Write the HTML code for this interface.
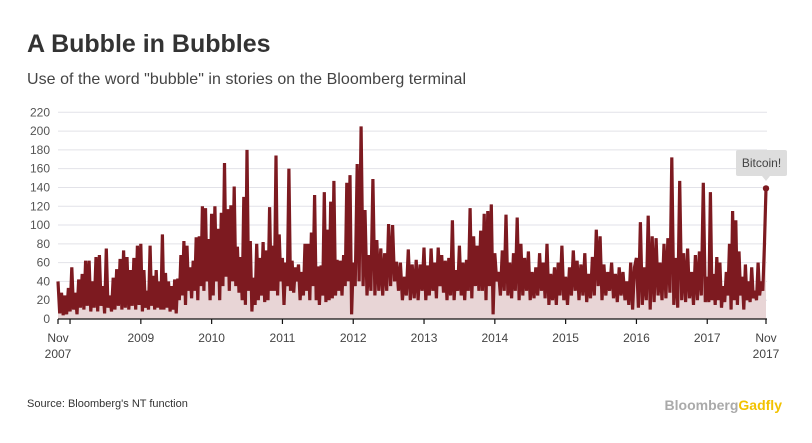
<!DOCTYPE html>
<html><head><meta charset="utf-8">
<style>
body{margin:0;background:#fff;width:812px;height:443px;overflow:hidden;font-family:"Liberation Sans",sans-serif}
svg{display:block}
</style></head>
<body>
<svg id="chart" width="812" height="443">
<text x="27" y="52" font-size="25" font-weight="bold" fill="#333">A Bubble in Bubbles</text>
<text x="27" y="84" font-size="16" fill="#444" textLength="439">Use of the word "bubble" in stories on the Bloomberg terminal</text>
<g id="grid"></g>
<g id="series"></g>
<g id="xaxis"></g>
<g>
<rect x="736" y="150" width="51" height="26" rx="2" fill="#ddd"/>
<polygon points="762,176 770,176 766,181" fill="#ddd"/>
<text x="761.5" y="167" font-size="12" fill="#444" text-anchor="middle">Bitcoin!</text>
</g>
<text x="27" y="407" font-size="11" fill="#333">Source: Bloomberg's NT function</text>
<text x="782" y="410" font-size="14" font-weight="bold" text-anchor="end"><tspan fill="#aaa">Bloomberg</tspan><tspan fill="#f2c200">Gadfly</tspan></text>
</svg>
<script>
const yTicks=[0,20,40,60,80,100,120,140,160,180,200,220];
const xTickLabels=["Nov|2007","","2009","2010","2011","2012","2013","2014","2015","2016","2017","Nov|2017"];
const xTickTimes=[2007.83,2008.0,2009,2010,2011,2012,2013,2014,2015,2016,2017,2017.83];
const segStarts=[2007.83,2009,2010,2011,2012,2013,2014,2015,2016,2017];
const segEnds=[2009,2010,2011,2012,2013,2014,2015,2016,2017,2017.83];
const s2008=[40,6,28,4,25,5,33,8,55,10,28,5,42,12,48,10,62,14,62,8,40,12,66,8,68,14,35,6,75,12,25,8,44,10,53,14,64,10,73,12,66,10,52,14,65,10,78,15];
const s2009=[80,8,52,12,30,10,78,14,46,10,52,12,40,10,90,10,49,12,40,8,35,10,42,6,43,20,68,25,83,15,78,30,55,22,62,30,87,20,88,35,120,30,118,40,85,20];
const s2010=[112,25,120,40,96,20,113,35,166,45,117,30,121,40,141,35,77,28,66,20,130,15,180,30,83,8,44,15,80,20,65,25,82,18,73,20,119,30,78,30,174,25,90,40];
const s2011=[65,15,60,35,160,30,62,28,55,40,58,20,50,25,80,30,80,20,92,35,132,20,56,15,57,25,135,18,95,20,125,22,147,25,63,30,62,25,68,35,145,40,153,5];
const s2012=[60,35,165,40,205,35,116,25,68,30,149,25,84,30,75,25,70,30,101,35,100,40,61,30,60,20,45,25,74,20,58,22,63,20,58,30];
const s2013=[76,20,57,25,75,30,60,22,76,35,68,28,62,20,65,25,105,20,52,30,78,25,60,20,63,30,118,22,88,35,78,30,94,30,112,20,115,35,122,5];
const s2014=[70,40,50,25,73,30,111,25,60,22,70,30,108,20,80,25,65,30,72,20,50,22,55,25,70,30,60,22,80,15,48,20,55,15,60,25,78,20];
const s2015=[45,15,55,25,73,30,62,20,58,25,70,18,48,22,66,25,95,35,88,20,58,25,50,30,60,22,48,18,55,25,50,20,40,15,60,10,55];
const s2016=[65,12,103,15,55,20,110,10,88,18,86,25,60,20,80,22,86,28,172,15,65,12,147,20,70,18,75,22,50,15,68,20,72,25,145,18];
const s2017=[45,18,135,20,48,15,66,20,60,12,35,18,50,25,80,10,115,20,105,15,72,25,45,10,58,20,40,18,55,22,30,20,60,25,40,30,78,139];
const segments=[s2008,s2009,s2010,s2011,s2012,s2013,s2014,s2015,s2016,s2017];

const NS="http://www.w3.org/2000/svg";
const X0=58,X1=766,T0=2007.83,T1=2017.83,Y0=319,YTOP=112.3,VMAX=220;
function xs(t){return X0+(t-T0)/(T1-T0)*(X1-X0);}
function ys(v){return Y0-v/VMAX*(Y0-YTOP);}
function mk(tag,attrs,parent){const e=document.createElementNS(NS,tag);for(const k in attrs)e.setAttribute(k,attrs[k]);parent.appendChild(e);return e;}

const grid=document.getElementById('grid');
yTicks.forEach(v=>{
  if(v>0){const l=mk('line',{x1:X0,x2:767,y1:ys(v),y2:ys(v),stroke:'#e2e2e8','stroke-width':1},grid);
  
  }
  const t=mk('text',{x:50,y:ys(v)+4,'font-size':12,fill:'#555','text-anchor':'end'},grid);
  t.textContent=v;
  
  
});

const pts=[];
segments.forEach((seg,i)=>{
  const a=segStarts[i],b=segEnds[i],n=seg.length;
  seg.forEach((v,j)=>{
    const last=(i===segments.length-1);
    const t=a+(b-a)*j/(last?(n-1):n);
    pts.push([xs(t),ys(v)]);
  });
});
const sg=document.getElementById('series');
const d=pts.map((p,i)=>(i?'L':'M')+p[0].toFixed(1)+','+p[1].toFixed(1)).join('');
const area=mk('path',{d:d+'L'+pts[pts.length-1][0].toFixed(1)+','+Y0+'L'+pts[0][0].toFixed(1)+','+Y0+'Z',fill:'#e8d5d6',stroke:'none'},sg);


const line=mk('path',{d:d,fill:'none',stroke:'#7d1a20','stroke-width':3.2,'stroke-linejoin':'miter','stroke-miterlimit':3},sg);


const lp=pts[pts.length-1];
const dot=mk('circle',{cx:lp[0],cy:lp[1],r:3.2,fill:'#7d1a20'},sg);



const xa=document.getElementById('xaxis');
const ax=mk('line',{x1:X0,x2:X1+1,y1:Y0,y2:Y0,stroke:'#111','stroke-width':1.2},xa);


xTickTimes.forEach((t,i)=>{
  const x=xs(t);
  const tk=mk('line',{x1:x,x2:x,y1:Y0,y2:Y0+5,stroke:'#111','stroke-width':1.2},xa);
  
  
  const parts=xTickLabels[i].split('|');
  parts.forEach((p,k)=>{
    if(!p)return;
    const tx=mk('text',{x:x,y:342+k*16,'font-size':12,fill:'#444','text-anchor':'middle'},xa);
    tx.textContent=p;
    
    
  });
});
</script>
</body></html>
